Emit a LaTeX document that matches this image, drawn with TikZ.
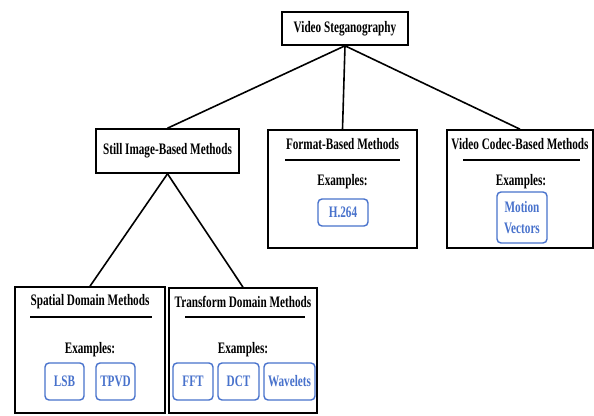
\documentclass[tikz,border=0pt]{standalone}
\usepackage{fontspec}
\setmainfont{Liberation Serif}[FakeStretch=0.7]
\usepackage{tikz}
\usetikzlibrary{calc}
\definecolor{azulej}{RGB}{72,114,204}

\begin{document}
\begin{tikzpicture}[x=1pt, y=-1pt, line width=1.6pt,
    caja/.style={draw=black, line width=1.6pt, inner sep=0pt},
    titulo/.style={font=\bfseries\fontsize{16}{18}\selectfont},
    ejemplo/.style={draw=azulej, text=azulej, rounded corners=4pt, line width=1.4pt,
        inner sep=0pt, align=center, font=\bfseries\fontsize{16}{21}\selectfont}]
    \useasboundingbox[fill=white] (0,0) rectangle (594,415);
    % cajas principales
    \node[caja, titulo, minimum width=126pt, minimum height=33pt] (video) at (345,28.5) {Video Steganography};
    \node[caja, titulo, minimum width=143pt, minimum height=44pt] (still) at (167.5,151) {Still Image-Based Methods};
    \node[caja, minimum width=149pt, minimum height=118pt] (format) at (342.5,189) {};
    \node[caja, minimum width=146pt, minimum height=118pt] (codec) at (520,189) {};
    \node[caja, minimum width=150pt, minimum height=126pt] (spatial) at (90,350) {};
    \node[caja, minimum width=148pt, minimum height=125pt] (transform) at (243,350.5) {};
    % ramas del arbol
    \draw (video.south)--(still.north);
    \draw (video.south)--(format.north);
    \draw (video.south)--(codec.north);
    \draw (still.south)--(spatial.north);
    \draw (still.south)--(transform.north);
    % Format-Based
    \node[titulo] (formatT) at (342.5,144) {Format-Based Methods};
    \draw (285,160)--(400,160);
    \node[titulo] (formatE) at (342.5,182) {Examples:};
    \node[ejemplo, minimum width=50pt, minimum height=27pt] (h264) at (343,212.5) {H.264};
    % Video Codec-Based
    \node[titulo] (codecT) at (520,144) {Video Codec-Based Methods};
    \draw (463,160)--(580,160);
    \node[titulo] (codecE) at (521,182) {Examples:};
    \node[ejemplo, minimum width=50pt, minimum height=51pt] (motion) at (522,217.5) {Motion\\Vectors};
    % Spatial Domain
    \node[titulo] (spatialT) at (90,302) {Spatial Domain Methods};
    \draw (30,317)--(152,317);
    \node[titulo] (spatialE) at (90,350) {Examples:};
    \node[ejemplo, minimum width=39pt, minimum height=37pt] (lsb) at (64.5,381.5) {LSB};
    \node[ejemplo, minimum width=39pt, minimum height=37pt] (tpvd) at (115.5,381.5) {TPVD};
    % Transform Domain
    \node[titulo] (transformT) at (243,302) {Transform Domain Methods};
    \draw (185,317)--(305,317);
    \node[titulo] (transformE) at (243,350) {Examples:};
    \node[ejemplo, minimum width=40pt, minimum height=37pt] (fft) at (193,381.5) {FFT};
    \node[ejemplo, minimum width=41pt, minimum height=37pt] (dct) at (238.5,381.5) {DCT};
    \node[ejemplo, minimum width=51pt, minimum height=37pt] (wavelets) at (289.5,381.5) {Wavelets};
\end{tikzpicture}
\end{document}
